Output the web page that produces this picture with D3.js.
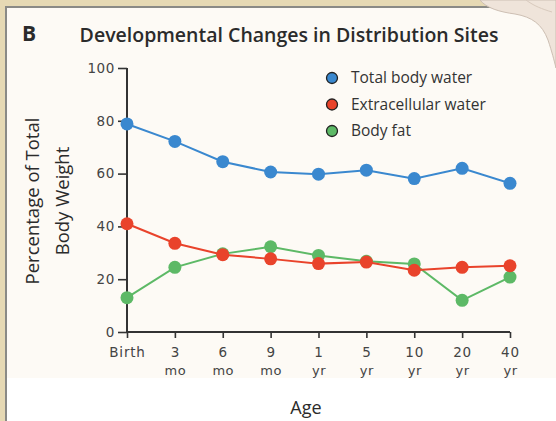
<!DOCTYPE html>
<html><head><meta charset="utf-8">
<script src="https://cdn.jsdelivr.net/npm/d3@7"></script>
<style>html,body{margin:0;padding:0;background:#e8dcb8;}svg{display:block;}</style>
</head><body>
<svg id="chart" width="556" height="421"></svg>
<script>
const categories = ["Birth","3 mo","6 mo","9 mo","1 yr","5 yr","10 yr","20 yr","40 yr"];
const tickLine1 = ["Birth","3","6","9","1","5","10","20","40"];
const tickLine2 = ["","mo","mo","mo","yr","yr","yr","yr","yr"];
const totalBodyWater = [78.8, 72.2, 64.5, 60.6, 59.8, 61.3, 58.1, 62.0, 56.3];
const extracellularWater = [41.0, 33.6, 29.3, 27.7, 25.9, 26.5, 23.4, 24.5, 25.1];
const bodyFat = [13.0, 24.5, 29.6, 32.3, 29.0, 26.8, 25.8, 12.0, 20.8];
const yTicks = [0, 20, 40, 60, 80, 100];
const seriesNames = ["Total body water","Extracellular water","Body fat"];
const seriesColors = ["#3a88cf","#e9432b","#5db966"];

const svg = d3.select("#chart");
const W = 556, H = 421;
const m = {left:127, right:46, top:68, bottom:89};
const tickFont = "'DejaVu Sans',sans-serif";
const labelFont = "'Open Sans', sans-serif";

// background
svg.append("rect").attr("x",0).attr("y",0).attr("width",W).attr("height",H).attr("fill","#e6d9b4");
svg.append("rect").attr("x",6).attr("y",7).attr("width",W).attr("height",H).attr("fill","#fdfaf5")
  .attr("stroke","#8a8a86").attr("stroke-width",2);
svg.append("rect").attr("x",7).attr("y",378).attr("width",W).attr("height",H).attr("fill","#ffffff");
// page curl top-right
svg.append("path").attr("d","M480,0 C486,8 500,12 515,14 C532,17 542,24 548,40 C552,52 554,60 556,68 L556,0 Z")
  .attr("fill","#efe4da").attr("stroke","#cdbfb3").attr("stroke-width",1);
svg.append("path").attr("d","M526,0 C534,6 542,9 552,12").attr("fill","none").attr("stroke","#d8cabd").attr("stroke-width",1);

const x = d3.scalePoint().domain(categories).range([m.left, W - m.right]);
const y = d3.scaleLinear().domain([0,100]).range([H - m.bottom, m.top]);

// title
svg.append("text").attr("x",22).attr("y",41).text("B")
  .attr("font-family",labelFont).attr("font-weight",700).attr("font-size",21).attr("fill","#2b2b2b");
svg.append("text").attr("x",289).attr("y",42).attr("text-anchor","middle").text("Developmental Changes in Distribution Sites")
  .attr("font-family",labelFont).attr("font-weight",600).attr("font-size",19.5).attr("fill","#2b2b2b");

// axes
const yAxis = d3.axisLeft(y).tickValues(yTicks).tickSize(9).tickPadding(3);
const gy = svg.append("g").attr("transform",`translate(${m.left},0)`).call(yAxis);
gy.select(".domain").attr("stroke","#333").attr("stroke-width",2).attr("d",`M0,${y(0)}V${y(100)}`);
gy.selectAll(".tick line").attr("stroke","#333").attr("stroke-width",1.6);
gy.selectAll(".tick text").attr("font-family",tickFont).attr("font-size",13.5).attr("letter-spacing",0.6).attr("fill","#444");

const xAxis = d3.axisBottom(x).tickSize(6).tickFormat(()=>"");
const gx = svg.append("g").attr("transform",`translate(0,${y(0)})`).call(xAxis);
gx.select(".domain").attr("stroke","#333").attr("stroke-width",2).attr("d",`M${m.left},0H${W-m.right}`);
gx.selectAll(".tick line").attr("stroke","#333").attr("stroke-width",1.6);
gx.selectAll(".tick").each(function(d,i){
  const t = d3.select(this);
  t.append("text").attr("y",25).attr("text-anchor","middle").text(tickLine1[i])
    .attr("font-family",tickFont).attr("font-size",13.5).attr("letter-spacing",0.8).attr("fill","#444");
  t.append("text").attr("y",43).attr("text-anchor","middle").text(tickLine2[i])
    .attr("font-family",tickFont).attr("font-size",13).attr("letter-spacing",0.5).attr("fill","#444");
});

// axis titles
const yl = svg.append("text").attr("transform","translate(0,201) rotate(-90)")
  .attr("text-anchor","middle").attr("font-family",labelFont).attr("font-size",18.5).attr("fill","#2b2b2b");
yl.append("tspan").attr("x",0).attr("y",39).text("Percentage of Total");
yl.append("tspan").attr("x",0).attr("y",69).text("Body Weight");
svg.append("text").attr("x",306).attr("y",414).attr("text-anchor","middle").text("Age")
  .attr("font-family",labelFont).attr("font-size",18).attr("fill","#2b2b2b");

// series
const allSeries = [totalBodyWater, extracellularWater, bodyFat];
const line = d3.line().x((d,i)=>x(categories[i])).y(d=>y(d));
[0,2,1].forEach(s=>{
  svg.append("path").datum(allSeries[s]).attr("d",line).attr("fill","none")
    .attr("stroke",seriesColors[s]).attr("stroke-width",2);
  svg.append("g").selectAll("circle").data(allSeries[s]).join("circle")
    .attr("cx",(d,i)=>x(categories[i])).attr("cy",d=>y(d)).attr("r",6.5).attr("fill",seriesColors[s]);
});

// legend
const lg = svg.append("g").attr("transform","translate(332,78)");
seriesNames.forEach((n,i)=>{
  const g = lg.append("g").attr("transform",`translate(0,${i*26.5})`);
  g.append("circle").attr("r",5.5).attr("fill",seriesColors[i]).attr("stroke","#222").attr("stroke-width",1.3);
  g.append("text").attr("x",19).attr("y",5).text(n)
    .attr("font-family",labelFont).attr("font-size",15.5).attr("fill","#333");
});
</script>
</body></html>
